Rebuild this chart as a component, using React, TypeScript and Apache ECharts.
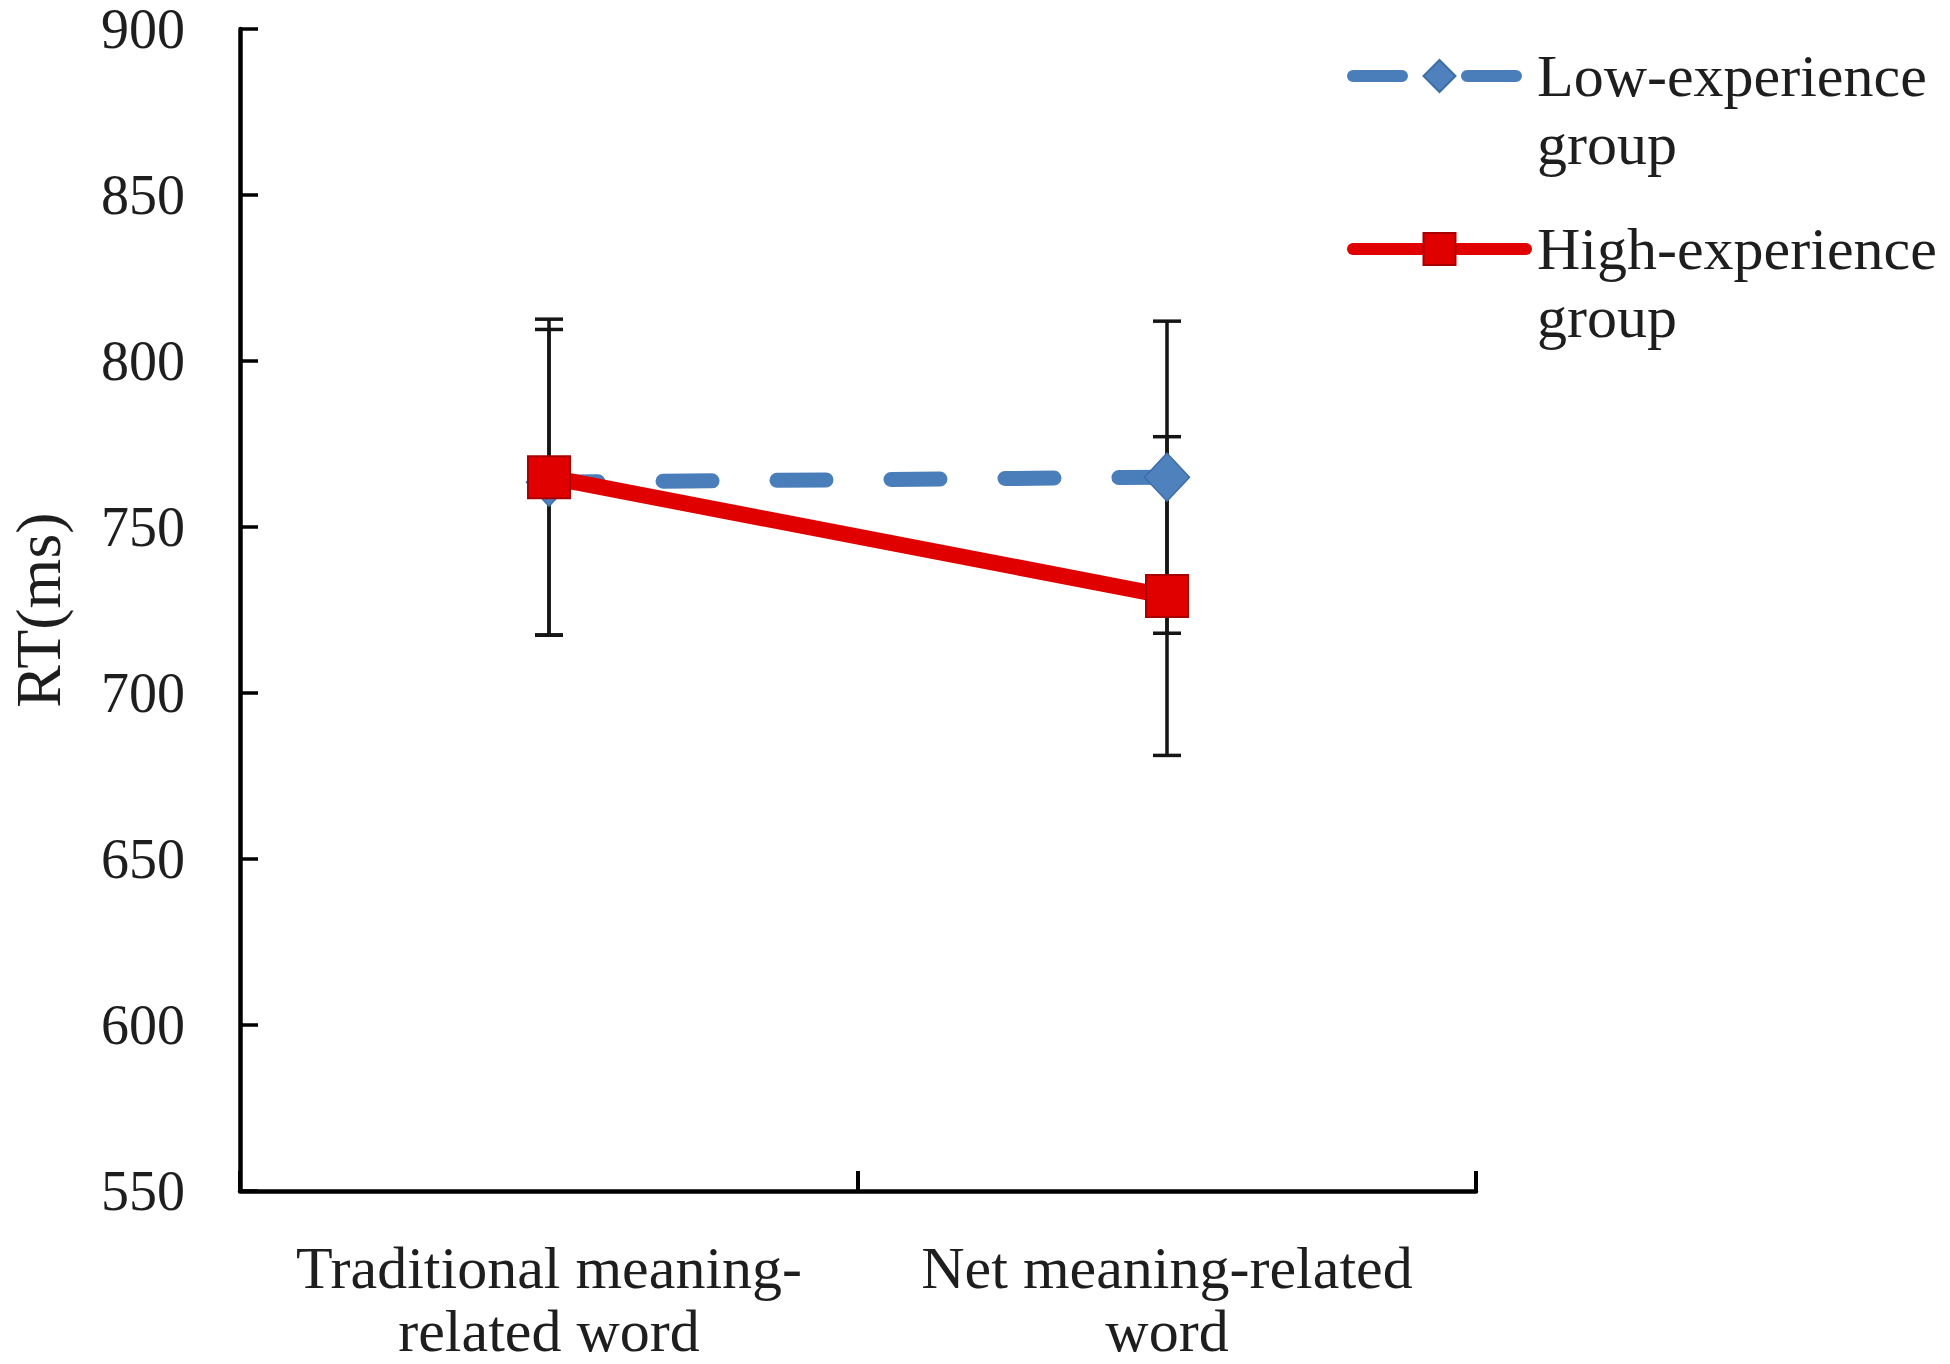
import React, { useEffect, useRef } from "react";
import * as echarts from "echarts";

const categories = ["Traditional meaning-\nrelated word", "Net meaning-related\nword"];
const seriesNames = ["Low-experience group", "High-experience group"];
const lowMeans = [763.5, 765];
const lowErr = [46, 47];
const highMeans = [765, 729.2];
const highErr = [47.6, 48];
const yMin = 550;
const yMax = 900;
const yStep = 50;

const FONT = "'Liberation Serif', 'Times New Roman', serif";
const TEXT = "#1e1e1e";
const BLUE = "#4A7EBB";
const RED = "#E00000";

export default function App() {
  const ref = useRef<HTMLDivElement>(null);

  useEffect(() => {
    if (!ref.current) return;
    const chart = echarts.init(ref.current, null, { renderer: "svg" });

    const errData = (means: number[], errs: number[]) =>
      means.map((m, i) => [i, m - errs[i], m + errs[i]]);

    const errorSeries = (name: string, means: number[], errs: number[]) => ({
      type: "custom",
      name: name + " error",
      z: 1,
      silent: true,
      encode: { x: 0, y: [1, 2] },
      data: errData(means, errs),
      renderItem: (params: any, api: any) => {
        const x = api.value(0);
        const lo = api.coord([x, api.value(1)]);
        const hi = api.coord([x, api.value(2)]);
        const cw = 14;
        const style = { stroke: "#151515", lineWidth: 3.5 };
        return {
          type: "group",
          children: [
            { type: "line", shape: { x1: lo[0], y1: lo[1], x2: hi[0], y2: hi[1] }, style },
            { type: "line", shape: { x1: lo[0] - cw, y1: lo[1], x2: lo[0] + cw, y2: lo[1] }, style },
            { type: "line", shape: { x1: hi[0] - cw, y1: hi[1], x2: hi[0] + cw, y2: hi[1] }, style },
          ],
        };
      },
    });

    chart.setOption({
      animation: false,
      backgroundColor: "#ffffff",
      grid: {
        left: 240,
        right: 474,
        top: 29,
        bottom: 173,
        containLabel: false,
        outerBoundsMode: "none",
      },
      legend: {
        orient: "vertical",
        left: 1347,
        top: -26,
        padding: 0,
        itemWidth: 173,
        itemHeight: 40,
        itemGap: -31,
        selectedMode: false,
        formatter: (name: string) => "\n" + name.replace(" group", "\ngroup"),
        textStyle: {
          fontSize: 60,
          fontFamily: FONT,
          color: TEXT,
          lineHeight: 68,
          padding: [0, 0, 0, 6],
        },
        lineStyle: { width: 12 },
        data: seriesNames,
      },
      xAxis: {
        type: "category",
        data: categories,
        axisLine: { lineStyle: { color: "#000", width: 4.5 } },
        axisTick: {
          show: true,
          inside: true,
          interval: 0,
          length: 20,
          lineStyle: { color: "#000", width: 4 },
        },
        axisLabel: {
          interval: 0,
          fontSize: 60,
          fontFamily: FONT,
          color: TEXT,
          lineHeight: 63,
          margin: 45,
        },
        splitLine: { show: false },
      },
      yAxis: {
        type: "value",
        min: yMin,
        max: yMax,
        interval: yStep,
        name: "RT(ms)",
        nameLocation: "middle",
        nameGap: 174,
        nameTextStyle: { fontSize: 64, lineHeight: 56, fontFamily: FONT, color: TEXT },
        axisLine: { show: true, lineStyle: { color: "#000", width: 4.5 } },
        axisTick: { show: true, inside: true, length: 18, lineStyle: { color: "#000", width: 3.5 } },
        axisLabel: { fontSize: 56, lineHeight: 40, fontFamily: FONT, color: TEXT, margin: 55 },
        splitLine: { show: false },
      },
      series: [
        errorSeries(seriesNames[0], lowMeans, lowErr),
        errorSeries(seriesNames[1], highMeans, highErr),
        {
          type: "line",
          name: seriesNames[0],
          data: lowMeans,
          z: 2,
          symbol: "diamond",
          symbolSize: [45, 48],
          lineStyle: { color: BLUE, width: 15, type: [49, 65], cap: "round" },
          itemStyle: { color: "#4F81BD", borderColor: "#3D6DA8", borderWidth: 1.5 },
        },
        {
          type: "line",
          name: seriesNames[1],
          data: highMeans,
          z: 3,
          symbol: "rect",
          symbolSize: 42,
          lineStyle: { color: RED, width: 16, cap: "round" },
          itemStyle: { color: RED, borderColor: "#A80000", borderWidth: 2 },
        },
      ],
    });

    return () => chart.dispose();
  }, []);

  return (
    <div
      ref={ref}
      style={{ position: "absolute", left: 0, top: 0, width: 1950, height: 1364, background: "#fff" }}
    />
  );
}
